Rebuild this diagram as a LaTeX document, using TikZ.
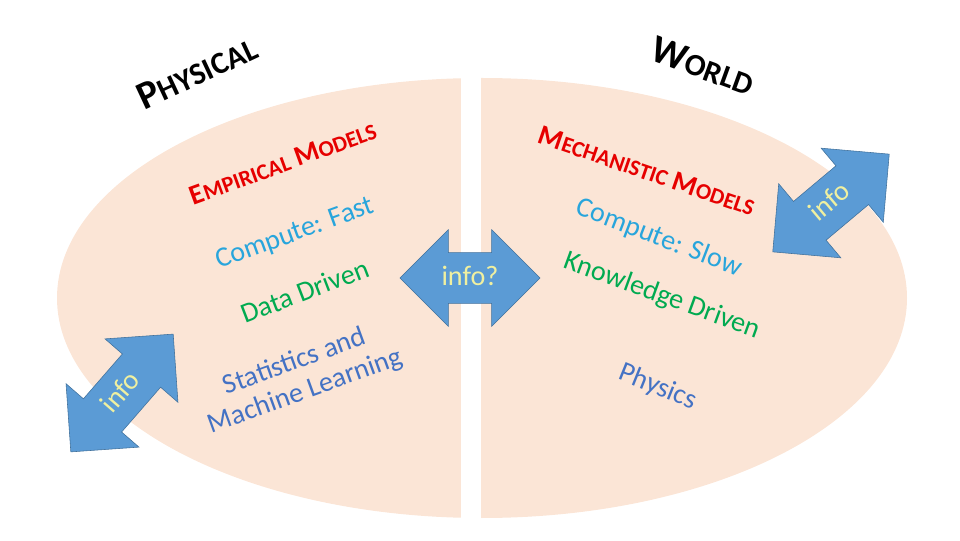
\documentclass[tikz,border=0pt]{standalone}
\usepackage{fontspec}
\setmainfont{Carlito}
\usepackage{xcolor}
\usepackage{tikz}
\usetikzlibrary{shapes.arrows}

\definecolor{pesca}{RGB}{251,229,214}
\definecolor{freccia}{RGB}{91,155,213}
\definecolor{bordo}{RGB}{65,113,156}
\definecolor{giallo}{RGB}{240,240,160}
\definecolor{rosso}{RGB}{230,0,0}
\definecolor{celeste}{RGB}{40,165,220}
\definecolor{verde}{RGB}{0,170,80}
\definecolor{blu}{RGB}{68,114,196}

\newcommand{\mini}[2]{{\fontsize{#1}{#1}\selectfont #2}}

\begin{document}
\begin{tikzpicture}[x=0.025cm, y=0.025cm,
  titolo/.style={font=\fontsize{20}{24}\selectfont\bfseries, text=rosso},
  voce/.style={font=\fontsize{20}{22}\selectfont},
  frecciainfo/.style={double arrow, double arrow head extend=0.575cm, fill=freccia, draw=bordo, thin,
    text=giallo, font=\fontsize{20}{24}\selectfont, inner ysep=8.8pt, text height=14pt, text depth=4pt}]

\useasboundingbox (0,0) rectangle (960,540);

% Ellisse e separazione
\fill[pesca] (482,242) ellipse [x radius=425, y radius=220];
\fill[white] (461,0) rectangle (481,540);

% Titoli
\node[font=\fontsize{28}{30}\selectfont\bfseries, rotate=25] (fisico) at (197,468) {P\mini{22}{HYSICAL}};
\node[font=\fontsize{28}{30}\selectfont\bfseries, rotate=-20] (mondo) at (703,474) {W\mini{22}{ORLD}};

% Modelli empirici
\node[titolo, rotate=20] (empirici) at (283,377) {E\mini{16}{MPIRICAL} M\mini{16}{ODELS}};
\node[voce, text=celeste, rotate=20] (veloce) at (295,306) {Compute: Fast};
\node[voce, text=verde, rotate=21] (dati) at (305,249) {Data Driven};
\node[voce, text=blu, rotate=20, align=center] (statistica) at (300,163) {Statistics and\\Machine Learning};

% Modelli meccanicistici
\node[titolo, rotate=-19] (meccanici) at (647,369) {M\mini{16}{ECHANISTIC} M\mini{16}{ODELS}};
\node[voce, text=celeste, rotate=-21] (lento) at (659,302) {Compute: Slow};
\node[voce, text=verde, rotate=-20] (conoscenza) at (662,244) {Knowledge Driven};
\node[voce, text=blu, rotate=-22] (fisica) at (658,153) {Physics};

% Frecce
\node[frecciainfo, minimum height=3.5cm] (centro) at (470,262) {info?};
\node[frecciainfo, rotate=49, minimum height=3.9cm] (sinistra) at (122,147) {info};
\node[frecciainfo, rotate=40, minimum height=3.8cm] (destra) at (831,337) {info};

\end{tikzpicture}
\end{document}
